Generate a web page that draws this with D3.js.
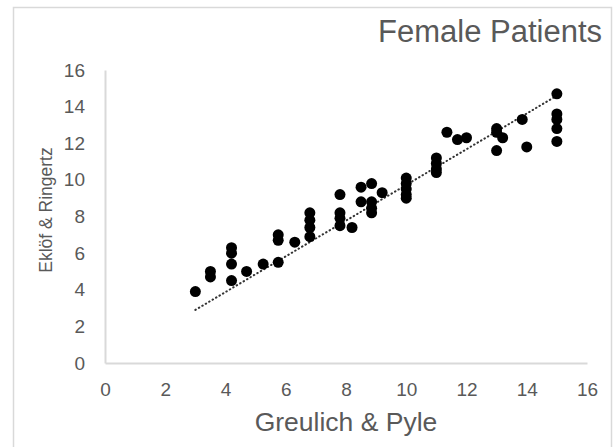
<!DOCTYPE html>
<html>
<head>
<meta charset="utf-8">
<script src="https://cdn.jsdelivr.net/npm/d3@7"></script>
<style>
  html, body { margin: 0; padding: 0; background: #ffffff; }
  svg { display: block; font-family: "Liberation Sans", Arial, sans-serif; }
</style>
</head>
<body>
<svg id="chart" width="614" height="447"></svg>
<script>
// Greulich & Pyle (x) vs Eklöf & Ringertz (y), female patients
const gpValues = [3.0, 3.5, 3.5, 4.2, 4.2, 4.2, 4.2, 4.7, 5.25, 5.75, 5.75, 5.75, 6.3,
  6.8, 6.8, 6.8, 6.8, 7.8, 7.8, 7.8, 7.8, 8.2, 8.5, 8.85, 8.5, 8.85, 8.85, 8.85, 9.2,
  10, 10, 10, 10, 10, 11, 11, 11, 11, 11.35, 11.7, 12.0, 13.0, 13.0, 13.2, 13.0, 13.85, 14.0,
  15, 15, 15, 15, 15];
const erValues = [3.9, 5.0, 4.7, 6.3, 6.0, 5.4, 4.5, 5.0, 5.4, 5.5, 7.0, 6.7, 6.6,
  8.2, 7.8, 7.4, 6.9, 9.2, 8.2, 7.9, 7.5, 7.4, 9.6, 9.8, 8.8, 8.8, 8.45, 8.2, 9.3,
  10.1, 9.8, 9.5, 9.2, 9.0, 11.2, 10.9, 10.6, 10.4, 12.6, 12.2, 12.3, 12.8, 12.6, 12.3, 11.6, 13.3, 11.8,
  14.7, 13.6, 13.3, 12.8, 12.1];
// trendline as drawn in the picture: [slope, intercept]
const trendCoef = [0.975, -0.025];
const xTicks = [0, 2, 4, 6, 8, 10, 12, 14, 16];
const yTicks = [0, 2, 4, 6, 8, 10, 12, 14, 16];
const chartTitle = "Female Patients";
const xTitle = "Greulich & Pyle";
const yTitle = "Eklöf & Ringertz";

const svg = d3.select("#chart");
const textColor = "#595959";
const axisColor = "#d9d9d9";

// outer frame
svg.append("rect")
  .attr("x", 13.5).attr("y", 7.5)
  .attr("width", 598).attr("height", 460)
  .attr("fill", "none").attr("stroke", "#d9d9d9").attr("stroke-width", 1.5);

const x = d3.scaleLinear().domain([0, 16]).range([105, 587]);
const y = d3.scaleLinear().domain([0, 16]).range([363, 70]);

// axes
const xAxis = d3.axisBottom(x).tickValues(xTicks).tickSize(0).tickPadding(20);
const yAxis = d3.axisLeft(y).tickValues(yTicks).tickSize(0).tickPadding(20);

const gx = svg.append("g").attr("transform", `translate(0,${y(0)})`).call(xAxis);
const gy = svg.append("g").attr("transform", `translate(${x(0)},0)`).call(yAxis);

[gx, gy].forEach(g => {
  g.select(".domain").attr("stroke", axisColor).attr("stroke-width", 2);
  g.selectAll(".tick text")
    .attr("fill", textColor)
    .style("font-size", "19px")
    .style("font-family", "'Liberation Sans', Arial, sans-serif");
});

// trendline over the data range
const [x0, x1] = d3.extent(gpValues);
svg.append("line")
  .attr("x1", x(x0)).attr("y1", y(trendCoef[1] + trendCoef[0] * x0))
  .attr("x2", x(x1)).attr("y2", y(trendCoef[1] + trendCoef[0] * x1))
  .attr("stroke", "#333333")
  .attr("stroke-width", 2)
  .attr("stroke-linecap", "round")
  .attr("stroke-dasharray", "0.5,3.5");

// points
svg.append("g").selectAll("circle")
  .data(gpValues.map((v, i) => [v, erValues[i]]))
  .join("circle")
  .attr("cx", d => x(d[0]))
  .attr("cy", d => y(d[1]))
  .attr("r", 5.5)
  .attr("fill", "#000000");

// titles
svg.append("text")
  .attr("x", 602).attr("y", 42)
  .attr("text-anchor", "end")
  .attr("fill", textColor)
  .style("font-size", "31px")
  .text(chartTitle);

svg.append("text")
  .attr("x", (x(0) + x(16)) / 2).attr("y", 431)
  .attr("text-anchor", "middle")
  .attr("fill", textColor)
  .style("font-size", "26.5px")
  .text(xTitle);

svg.append("text")
  .attr("transform", `translate(52,210) rotate(-90)`)
  .attr("text-anchor", "middle")
  .attr("fill", textColor)
  .style("font-size", "17.5px")
  .text(yTitle);
</script>
</body>
</html>
